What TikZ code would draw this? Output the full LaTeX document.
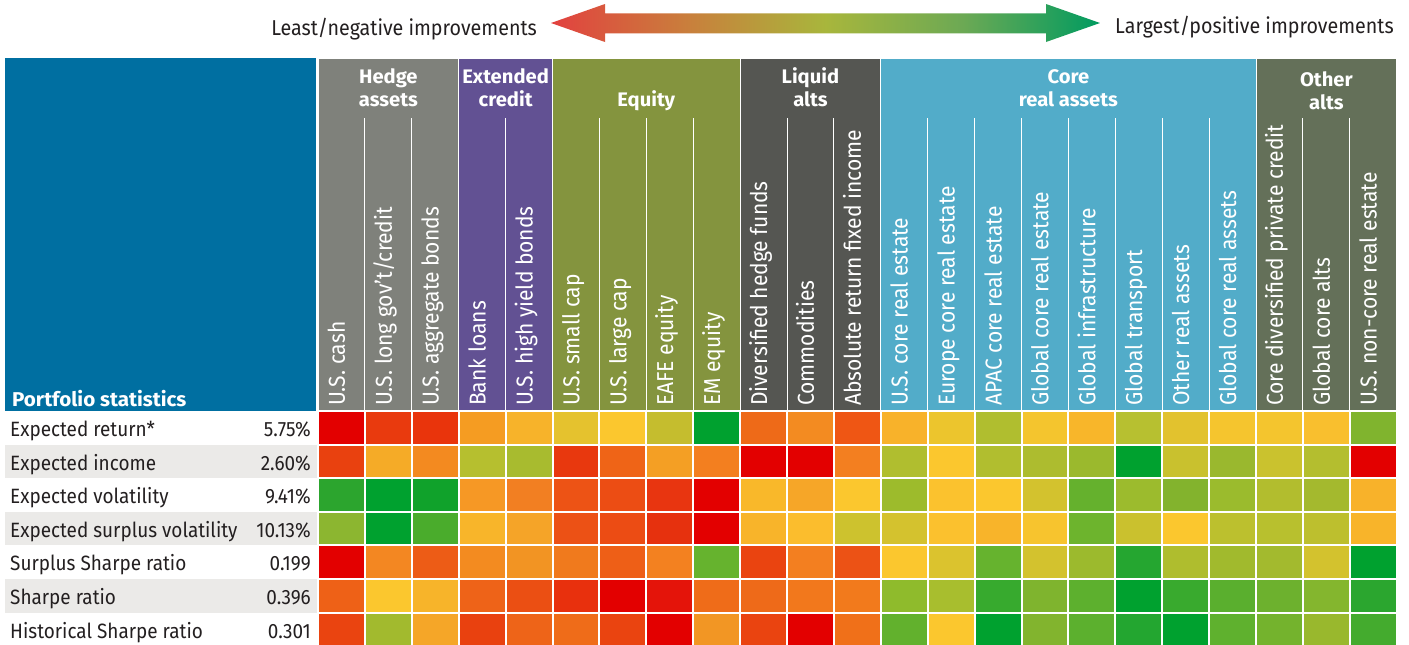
\documentclass[tikz,border=0pt]{standalone}
\usepackage{fontspec}
\setmainfont{Fira Sans}
\newfontfamily\condf{Fira Sans}[FakeStretch=0.915]
\newfontfamily\wbold{Fira Sans}[FakeStretch=1.03]
\usetikzlibrary{calc}
\definecolor{txt}{HTML}{231F20}
\definecolor{leftblue}{HTML}{006FA1}
\definecolor{ghedge}{HTML}{7F817B}
\definecolor{gext}{HTML}{625193}
\definecolor{geq}{HTML}{84943E}
\definecolor{gliq}{HTML}{555652}
\definecolor{gcore}{HTML}{52ACC9}
\definecolor{goth}{HTML}{647059}
\definecolor{rowgray}{HTML}{EBEAE8}
\definecolor{a1}{HTML}{E2413F}
\definecolor{a2}{HTML}{C97F3C}
\definecolor{a3}{HTML}{A8B63C}
\definecolor{a4}{HTML}{6CA954}
\definecolor{a5}{HTML}{009B60}
\pgfdeclarehorizontalshading{arrowgrad}{100bp}{color(0bp)=(a1); color(25bp)=(a1); color(37.5bp)=(a2); color(50bp)=(a3); color(62.5bp)=(a4); color(75bp)=(a5); color(100bp)=(a5)}
\begin{document}
\begin{tikzpicture}[x=1pt,y=-1pt,
  cell/.style={draw=white, line width=2pt, minimum width=46.9pt, minimum height=33.6pt, inner sep=0pt, outer sep=0pt, anchor=north west},
  grp/.style={draw=white, line width=1pt, inner sep=0pt, outer sep=0pt, anchor=north west, minimum height=353pt},
  grptxt/.style={text=white, font=\wbold\bfseries\fontsize{19.6}{23}\selectfont, anchor=base, inner sep=0pt},
  collab/.style={text=white, font=\condf\fontsize{23}{26}\selectfont, rotate=90, anchor=west, inner sep=0pt, text height=0.69em, text depth=0pt},
  rowlab/.style={text=txt, font=\condf\fontsize{20.7}{24}\selectfont, anchor=base west, inner sep=0pt},
  rowval/.style={text=txt, font=\condf\fontsize{20.7}{24}\selectfont, anchor=base east, inner sep=0pt},
  rowbg/.style={fill=rowgray, inner sep=0pt, outer sep=0pt, minimum width=313pt, minimum height=33.6pt, anchor=north west},
  sepline/.style={draw=white, line width=1pt},
  toptxt/.style={text=txt, font=\condf\fontsize{21.5}{24}\selectfont, inner sep=0pt}]
\useasboundingbox[fill=white] (0,0) rectangle (1409,645);

% legend arrow
\coordinate (arrL) at (551,23);
\coordinate (arrR) at (1100,23);
\shade[shading=arrowgrad] (arrL) -- ++(54,-19) -- ++(0,9.3) -- ($(arrR)+(-54,-9.7)$) -- ++(0,-9.3) -- (arrR) -- ++(-54,19) -- ++(0,-8.7) -- ($(arrL)+(54,10.3)$) -- ++(0,8.7) -- cycle;
\node[toptxt, anchor=base east] (least) at (537,35) {Least/negative improvements};
\node[toptxt, anchor=base west] (largest) at (1115,33.5) {Largest/positive improvements};

% left panel
\node[fill=leftblue, inner sep=0pt, outer sep=0pt, anchor=north west, minimum width=311pt, minimum height=353pt] (lp) at (5,58) {};
\node[text=white, font=\wbold\bfseries\fontsize{20}{23}\selectfont, anchor=base west, inner sep=0pt] (ps) at (12,406) {Portfolio statistics};

% group boxes
\node[grp, fill=ghedge, minimum width=140.7pt] (g-hedge) at (318,58) {};
\node[grp, fill=gext, minimum width=93.8pt] (g-ext) at (458.7,58) {};
\node[grp, fill=geq, minimum width=187.6pt] (g-eq) at (552.5,58) {};
\node[grp, fill=gliq, minimum width=140.7pt] (g-liq) at (740.1,58) {};
\node[grp, fill=gcore, minimum width=375.2pt] (g-core) at (880.8,58) {};
\node[grp, fill=goth, minimum width=140.7pt] (g-oth) at (1256,58) {};

% group labels
\node[grptxt] (t-hedge1) at (388.35,83) {Hedge};
\node[grptxt] (t-hedge2) at (388.35,106) {assets};
\node[grptxt] (t-ext1) at (505.6,83) {Extended};
\node[grptxt] (t-ext2) at (505.6,106) {credit};
\node[grptxt] (t-eq) at (646.3,106) {Equity};
\node[grptxt] (t-liq1) at (810.45,83) {Liquid};
\node[grptxt] (t-liq2) at (810.45,106) {alts};
\node[grptxt] (t-core1) at (1068.4,83) {Core};
\node[grptxt] (t-core2) at (1068.4,106) {real assets};
\node[grptxt] (t-oth1) at (1326.35,86) {Other};
\node[grptxt] (t-oth2) at (1326.35,109) {alts};

% column separators
\foreach \c in {1,2,4,6,7,8,10,11,13,14,15,16,17,18,19,21,22}{
  \draw[sepline] ({318+\c*46.9},118) -- ({318+\c*46.9},411);
}

% column labels
\foreach \t [count=\c from 0] in {U.S. cash, U.S. long gov’t/credit, U.S. aggregate bonds, Bank loans, U.S. high yield bonds, U.S. small cap, U.S. large cap, EAFE equity, EM equity, Diversified hedge funds, Commodities, Absolute return fixed income, U.S. core real estate, Europe core real estate, APAC core real estate, Global core real estate, Global infrastructure, Global transport, Other real assets, Global core real assets, Core diversified private credit, Global core alts, U.S. non-core real estate}{
  \node[collab] (col-\c) at ({318+(\c+0.5)*46.9},406) {\t};
}

% row backgrounds
\foreach \r in {1,3,5}{
  \node[rowbg] (bg-\r) at (5,{411+\r*33.6}) {};
}

% row labels and values
\foreach \lab/\val [count=\r from 0] in {Expected return*/5.75\%, Expected income/2.60\%, Expected volatility/9.41\%, Expected surplus volatility/10.13\%, Surplus Sharpe ratio/0.199, Sharpe ratio/0.396, Historical Sharpe ratio/0.301}{
  \node[rowlab] (lab-\r) at (10,{411+\r*33.6+25.5}) {\lab};
  \node[rowval] (val-\r) at (311,{411+\r*33.6+25.5}) {\val};
}

% heat map cells
\foreach \row [count=\r from 0] in {
 {E30000,E93A0E,E9340C,F59C22,F7B32A,E5C22E,FBC72E,C5BD2E,00A12F,EE6A18,F38B21,EF5614,F8B22A,ECC52D,B0BE2F,F4C52E,F8B62A,B7C030,E2C22E,F5C52E,F4C52E,F9BF2E,80B42E},
 {E9410F,F5AB27,F38A20,B6BF2F,A8BB2F,E8380E,EF6417,F49F24,F37F1F,E30000,E30000,F37F20,B0BE2F,FBC72E,B1BE2F,ADBC2F,9BB92D,00A12F,C9C12E,9AB82E,CAC22E,B4BE2F,E30000},
 {2CA52E,00A12F,10A22B,F69825,F27F22,ED5315,EC4D14,E83510,E30000,F9B82A,F6A628,FBC72E,9DBB2C,FBC22E,FBC72E,D3C22E,65B12D,9CBB2D,83B32D,9BBB2D,B2BD2E,A4B92E,F8B22A},
 {8CB630,00A12F,4AAC2C,F8B52A,F5A428,EC5115,EC4C14,E6310E,E30000,F8B42A,FBBD2D,CDC22E,D4C22E,FBC12E,F8B42A,F7C42E,6DB42D,CAC12E,FBC72E,BCC02E,B8C02E,BDBF2E,F8B42A},
 {E30000,F38722,ED5C16,F38B20,F29423,F07A1D,EE5F17,F38120,66B32E,EA4410,F37F20,EC5215,FBC72E,DBC32E,66B32E,D3C22E,9CBA2D,25A630,AFBD2E,A1BA2D,A3BA2E,D3C22E,00A12F},
 {EE6117,FBC72E,F7B42A,EE6318,EB4F13,E8300D,E30000,E4140A,EF6C19,EE6A19,F2781C,F27A1C,8FBB2C,A8BE2E,37AA2E,7FB42E,5DB02E,00A12F,39AA2E,5AAF2E,6DB12E,84B62E,2BA62F},
 {EA4410,A2BA2E,F5A628,E9410F,EE6418,EF6C19,EA4410,E30000,F29624,EA4410,E30000,F07019,62B12D,FBC72E,00A12F,82B42E,5CB02E,23A630,00A12F,5FB12E,74B32D,99B82D,44AB2E}}{
  \foreach \hex [count=\c from 0] in \row {
    \definecolor{cellc}{HTML}{\hex}
    \node[cell, fill=cellc] (cell-\r-\c) at ({318+\c*46.9},{411+\r*33.6}) {};
  }
}
\end{tikzpicture}
\end{document}
